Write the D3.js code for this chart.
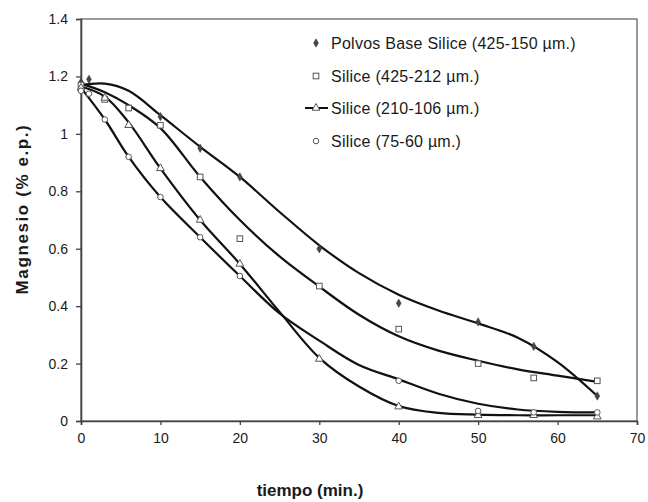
<!DOCTYPE html>
<html><head><meta charset="utf-8">
<script src="https://cdn.jsdelivr.net/npm/d3@7"></script>
<style>body{margin:0;background:#fff}text{font-family:"Liberation Sans",Arial,sans-serif;fill:#1a1a1a}</style>
</head><body><svg id="c" width="648" height="502"></svg>
<script>
// ---- data ----
const timeTicks = [0, 10, 20, 30, 40, 50, 60, 70];
const magTicks = [0, 0.2, 0.4, 0.6, 0.8, 1, 1.2, 1.4];
const seriesNames = ["Polvos Base Silice (425-150 µm.)", "Silice (425-212 µm.)", "Silice (210-106 µm.)", "Silice (75-60 µm.)"];
const seriesSymbols = ["diamond", "square", "triangle", "circle"];

// measured points (time in min, magnesium % e.p.)
const polvosT = [0, 1, 10, 15, 20, 30, 40, 50, 57, 65];
const polvosV = [1.18, 1.19, 1.06, 0.95, 0.85, 0.60, 0.41, 0.345, 0.26, 0.087];
const s425T = [0, 3, 6, 10, 15, 20, 30, 40, 50, 57, 65];
const s425V = [1.17, 1.12, 1.09, 1.03, 0.85, 0.635, 0.47, 0.32, 0.20, 0.15, 0.14];
const s210T = [0, 3, 6, 10, 15, 20, 30, 40, 50, 57, 65];
const s210V = [1.16, 1.125, 1.03, 0.88, 0.70, 0.547, 0.216, 0.05, 0.02, 0.02, 0.015];
const s75T = [0, 1, 3, 6, 10, 15, 20, 40, 50, 57, 65];
const s75V = [1.15, 1.14, 1.05, 0.92, 0.78, 0.64, 0.505, 0.14, 0.035, 0.03, 0.03];

// trend curves
const trendT = [0, 3, 6, 10, 15, 20, 25, 30, 35, 40, 45, 50, 55, 60, 65];
const polvosTrend = [1.17, 1.175, 1.15, 1.065, 0.955, 0.85, 0.728, 0.612, 0.515, 0.44, 0.385, 0.34, 0.29, 0.205, 0.087];
const s425Trend = [1.175, 1.145, 1.1, 1.02, 0.85, 0.70, 0.573, 0.468, 0.37, 0.295, 0.245, 0.21, 0.18, 0.158, 0.136];
const s210Trend = [1.165, 1.13, 1.04, 0.88, 0.70, 0.547, 0.38, 0.22, 0.12, 0.052, 0.028, 0.022, 0.02, 0.02, 0.02];
const s75Trend = [1.16, 1.05, 0.92, 0.78, 0.64, 0.505, 0.375, 0.28, 0.195, 0.145, 0.095, 0.06, 0.04, 0.032, 0.03];

const pointSets = [[polvosT, polvosV], [s425T, s425V], [s210T, s210V], [s75T, s75V]];
const trendSets = [polvosTrend, s425Trend, s210Trend, s75Trend];

// ---- drawing ----
const svg = d3.select("#c");
const x = d3.scaleLinear().domain([0, 70]).range([81, 637]);
const y = d3.scaleLinear().domain([0, 1.4]).range([421, 19]);

// frame
svg.append("rect").attr("x", x(0)).attr("y", y(1.4)).attr("width", x(70) - x(0)).attr("height", y(0) - y(1.4))
  .attr("fill", "none").attr("stroke", "#666").attr("stroke-width", 1.3);

const ax = svg.append("g").attr("transform", `translate(0,${y(0)})`)
  .call(d3.axisBottom(x).tickValues(timeTicks).tickSize(4).tickPadding(8).tickFormat(d => String(d)));
const ay = svg.append("g").attr("transform", `translate(${x(0)},0)`)
  .call(d3.axisLeft(y).tickValues(magTicks).tickSize(5).tickPadding(8).tickFormat(d => String(d)));
[ax, ay].forEach(g => {
  g.select(".domain").attr("stroke", "#444").attr("stroke-width", 1.6);
  g.selectAll(".tick line").attr("stroke", "#444").attr("stroke-width", 1.3);
  g.selectAll(".tick text").style("font-family", '"Liberation Sans",Arial,sans-serif').style("font-size", "14px").attr("fill", "#1a1a1a");
});

// trend lines
const line = d3.line().x(d => x(d[0])).y(d => y(d[1])).curve(d3.curveCatmullRom.alpha(0.5));
trendSets.forEach(vals => {
  svg.append("path").datum(trendT.map((t, i) => [t, vals[i]]))
    .attr("d", line).attr("fill", "none").attr("stroke", "#111").attr("stroke-width", 2.2);
});

// markers
function marker(g, kind, cx, cy) {
  if (kind === "diamond") {
    g.append("path").attr("d", d3.symbol(d3.symbolDiamond, 20)()).attr("transform", `translate(${cx},${cy})`)
      .attr("fill", "#444").attr("stroke", "#444").attr("stroke-width", 0.6);
  } else if (kind === "square") {
    g.append("rect").attr("x", cx - 2.8).attr("y", cy - 2.8).attr("width", 5.6).attr("height", 5.6)
      .attr("fill", "#fff").attr("stroke", "#555").attr("stroke-width", 1);
  } else if (kind === "triangle") {
    g.append("path").attr("d", d3.symbol(d3.symbolTriangle, 26)()).attr("transform", `translate(${cx},${cy})`)
      .attr("fill", "#fff").attr("stroke", "#555").attr("stroke-width", 1);
  } else {
    g.append("circle").attr("cx", cx).attr("cy", cy).attr("r", 2.8)
      .attr("fill", "#fff").attr("stroke", "#555").attr("stroke-width", 1);
  }
}
const mg = svg.append("g");
pointSets.forEach((ps, si) => {
  ps[0].forEach((t, i) => marker(mg, seriesSymbols[si], x(t), y(ps[1][i])));
});

// legend
const legY = [43, 76, 108, 141];
const lg = svg.append("g");
seriesNames.forEach((name, i) => {
  if (i === 2) {
    lg.append("line").attr("x1", 305).attr("x2", 328).attr("y1", legY[i]).attr("y2", legY[i])
      .attr("stroke", "#111").attr("stroke-width", 2);
  }
  marker(lg, seriesSymbols[i], 316, legY[i]);
  lg.append("text").attr("x", 331).attr("y", legY[i]).attr("dy", "0.36em")
    .style("font-size", "16px").style("letter-spacing", "0.25px").text(name);
});

// titles
svg.append("text").attr("x", 310).attr("y", 496).attr("text-anchor", "middle")
  .style("font-size", "17px").style("font-weight", "bold").text("tiempo (min.)");
svg.append("text").attr("transform", "translate(28,209) rotate(-90)").attr("text-anchor", "middle")
  .style("font-size", "17px").style("font-weight", "bold").style("letter-spacing", "1.6px").text("Magnesio (% e.p.)");
</script></body></html>
